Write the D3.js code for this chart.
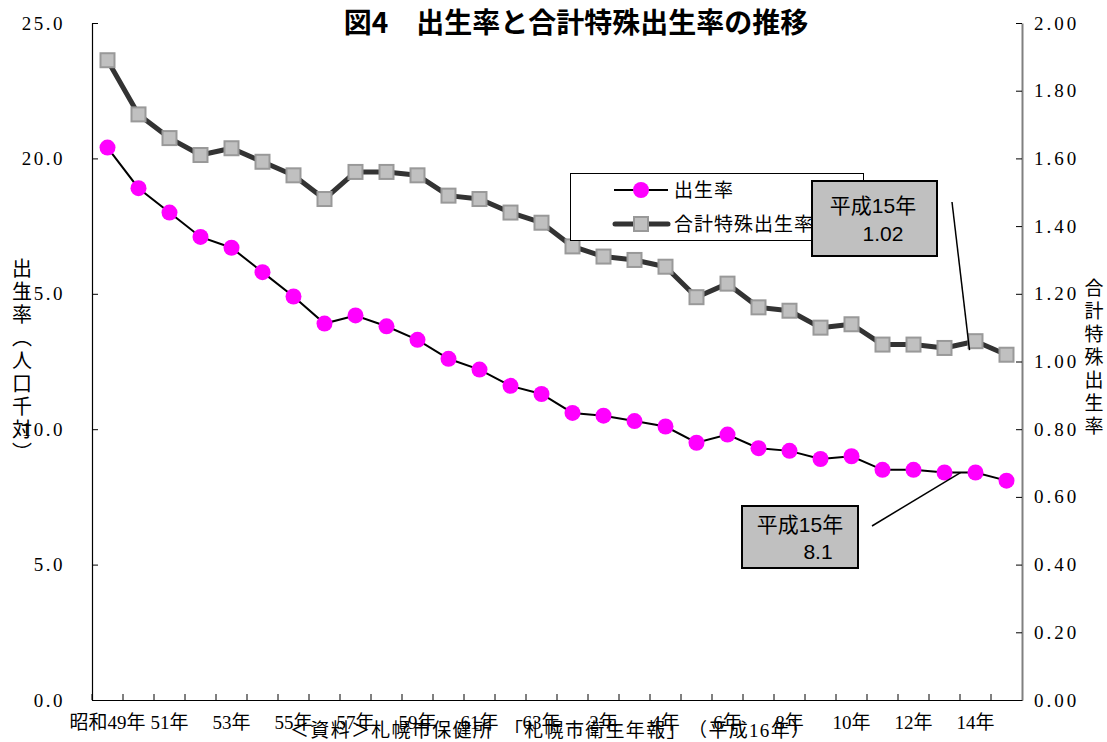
<!DOCTYPE html>
<html><head><meta charset="utf-8">
<script src="https://cdn.jsdelivr.net/npm/d3@7"></script>
<style>
body{margin:0;background:#fff;}
svg{display:block;}
</style></head>
<body>
<svg id="chart" width="1107" height="742"></svg>
<script>
const categories = ["昭和49年","50年","51年","52年","53年","54年","55年","56年","57年","58年","59年","60年","61年","62年","63年","平成元年","2年","3年","4年","5年","6年","7年","8年","9年","10年","11年","12年","13年","14年","15年"];
const birthRate = [20.4,18.9,18.0,17.1,16.7,15.8,14.9,13.9,14.2,13.8,13.3,12.6,12.2,11.6,11.3,10.6,10.5,10.3,10.1,9.5,9.8,9.3,9.2,8.9,9.0,8.5,8.5,8.4,8.4,8.1];
const tfr = [1.89,1.73,1.66,1.61,1.63,1.59,1.55,1.48,1.56,1.56,1.55,1.49,1.48,1.44,1.41,1.34,1.31,1.30,1.28,1.19,1.23,1.16,1.15,1.10,1.11,1.05,1.05,1.04,1.06,1.02];
const xTickLabels = ["昭和49年","51年","53年","55年","57年","59年","61年","63年","2年","4年","6年","8年","10年","12年","14年"];
const leftTicks = [0,5,10,15,20,25];
const rightTicks = [0,0.2,0.4,0.6,0.8,1.0,1.2,1.4,1.6,1.8,2.0];
const seriesNames = ["出生率","合計特殊出生率"];
const title = "図4　出生率と合計特殊出生率の推移";
const leftTitle = "出生率（人口千対）";
const rightTitle = "合計特殊出生率";
const source = "＜資料＞札幌市保健所　「札幌市衛生年報」　（平成16年）";
const calloutTfr = ["平成15年","1.02"];
const calloutBirth = ["平成15年","8.1"];

const svg = d3.select("#chart");
const L = 92, R = 1022, T = 23, B = 700;
const serif = "'Liberation Serif','Noto Sans CJK JP',serif";
const sans = "'Liberation Sans','Noto Sans CJK JP',sans-serif";
const cjk = "'Noto Sans CJK JP',sans-serif";

const x = d3.scaleBand().domain(categories).range([L, R]).paddingInner(0).paddingOuter(0);
const yL = d3.scaleLinear().domain([0,25]).range([B, T]);
const yR = d3.scaleLinear().domain([0,2]).range([B, T]);
const cx = d => x(d) + x.bandwidth()/2;

// title
svg.append("text").attr("x", 576).attr("y", 33).attr("text-anchor","middle")
  .attr("font-family", cjk).attr("font-weight","bold").attr("font-size", 28).attr("fill","#000").text(title);

// left axis
const gL = svg.append("g").attr("transform",`translate(${L},0)`)
  .call(d3.axisLeft(yL).tickValues(leftTicks).tickSizeInner(-6).tickSizeOuter(0).tickPadding(27).tickFormat(d3.format(".1f")));
gL.select(".domain").attr("stroke","#000").attr("stroke-width",1.2);
gL.selectAll(".tick line").attr("stroke","#000");
gL.selectAll(".tick text").attr("font-family", serif).attr("font-size", 19).attr("letter-spacing", 2.5).attr("fill","#000");

// right axis
const gR = svg.append("g").attr("transform",`translate(${R},0)`)
  .call(d3.axisRight(yR).tickValues(rightTicks).tickSizeInner(-6).tickSizeOuter(0).tickPadding(12).tickFormat(d3.format(".2f")));
gR.select(".domain").attr("stroke","#808080").attr("stroke-width",2);
gR.selectAll(".tick line").attr("stroke","#000");
gR.selectAll(".tick text").attr("font-family", serif).attr("font-size", 19).attr("letter-spacing", 3).attr("fill","#000");

// bottom axis
const gB = svg.append("g").attr("transform",`translate(0,${B})`)
  .call(d3.axisBottom(x).tickValues(xTickLabels).tickSizeInner(0).tickSizeOuter(0).tickPadding(16));
gB.select(".domain").attr("stroke","#000").attr("stroke-width",1.2);
gB.selectAll(".tick text").attr("font-family", serif).attr("font-size", 19).attr("fill","#000");
gB.selectAll("line.bt").data(categories).enter().append("line").attr("class","bt")
  .attr("x1", d => x(d)).attr("x2", d => x(d)).attr("y1", 0).attr("y2", -6).attr("stroke","#000");

// source note
svg.append("text").attr("x", 290).attr("y", 737).attr("font-family", serif).attr("font-size", 19)
  .attr("textLength", 520).attr("lengthAdjust","spacing")
  .attr("fill","#000").text(source);

// axis titles
svg.append("text").attr("x", 22).attr("y", 258).attr("font-family", cjk).attr("font-size", 20)
  .attr("letter-spacing", 3).style("writing-mode","vertical-rl").style("text-orientation","upright")
  .attr("fill","#000").text(leftTitle);
svg.append("text").attr("x", 1094).attr("y", 278).attr("font-family", cjk).attr("font-size", 19)
  .attr("letter-spacing", 4).style("writing-mode","vertical-rl").style("text-orientation","upright")
  .attr("fill","#000").text(rightTitle);

// TFR series
const tfrData = categories.map((c,i)=>({c, v: tfr[i]}));
const brData = categories.map((c,i)=>({c, v: birthRate[i]}));
svg.append("path").datum(tfrData).attr("fill","none").attr("stroke","#333").attr("stroke-width",5)
  .attr("stroke-linejoin","round")
  .attr("d", d3.line().x(d=>cx(d.c)).y(d=>yR(d.v)));
svg.selectAll("rect.tfr").data(tfrData).enter().append("rect").attr("class","tfr")
  .attr("x", d=>cx(d.c)-7).attr("y", d=>yR(d.v)-7).attr("width",14).attr("height",14)
  .attr("fill","#c0c0c0").attr("stroke","#999").attr("stroke-width",2);

// birth rate series
svg.append("path").datum(brData).attr("fill","none").attr("stroke","#000").attr("stroke-width",2)
  .attr("d", d3.line().x(d=>cx(d.c)).y(d=>yL(d.v)));
svg.selectAll("circle.br").data(brData).enter().append("circle").attr("class","br")
  .attr("cx", d=>cx(d.c)).attr("cy", d=>yL(d.v)).attr("r",8).attr("fill","#ff00ff");

// legend
const lg = svg.append("g");
lg.append("rect").attr("x",570.5).attr("y",173.5).attr("width",293).attr("height",67)
  .attr("fill","#fff").attr("stroke","#000").attr("stroke-width",1);
lg.append("line").attr("x1",614).attr("x2",668).attr("y1",190).attr("y2",190).attr("stroke","#000").attr("stroke-width",2);
lg.append("circle").attr("cx",641).attr("cy",190).attr("r",8).attr("fill","#ff00ff");
lg.append("line").attr("x1",615).attr("x2",668).attr("y1",224).attr("y2",224).attr("stroke","#333").attr("stroke-width",5).attr("stroke-linecap","round");
lg.append("rect").attr("x",634).attr("y",217).attr("width",14).attr("height",14).attr("fill","#c0c0c0").attr("stroke","#999").attr("stroke-width",2);
lg.append("text").attr("x",674).attr("y",197).attr("font-family",cjk).attr("font-size",19).attr("letter-spacing",1).attr("fill","#000").text(seriesNames[0]);
lg.append("text").attr("x",674).attr("y",231).attr("font-family",cjk).attr("font-size",19).attr("letter-spacing",1).attr("fill","#000").text(seriesNames[1]);

// callouts
const last = categories[categories.length-2];
function callout(bx, by, bw, bh, lines, lx, ly, ex, ey, offs){
  svg.append("line").attr("x1",lx).attr("y1",ly).attr("x2",ex).attr("y2",ey).attr("stroke","#000").attr("stroke-width",1.5);
  svg.append("rect").attr("x",bx).attr("y",by).attr("width",bw).attr("height",bh)
    .attr("fill","#c0c0c0").attr("stroke","#000").attr("stroke-width",2);
  lines.forEach((t,i)=>{
    svg.append("text").attr("x",offs[i][0]).attr("y",offs[i][1]).attr("text-anchor","middle")
      .attr("font-family",sans).attr("font-size",21).attr("fill","#000").text(t);
  });
}
callout(812, 181, 125, 75, calloutTfr, 952, 202, cx(last)-6, yR(tfr[28])+9, [[873,213],[883,241]]);
callout(742, 506, 116, 62, calloutBirth, 872, 526, cx(last)-15, yL(birthRate[28]), [[800,532],[818,559]]);
</script>
</body></html>
